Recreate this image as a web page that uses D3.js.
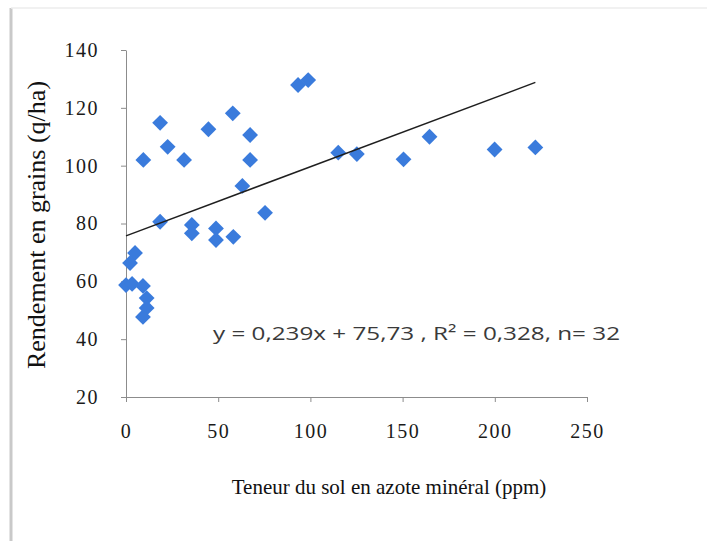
<!DOCTYPE html>
<html>
<head>
<meta charset="utf-8">
<script src="https://cdn.jsdelivr.net/npm/d3@7"></script>
<style>
  html, body { margin: 0; padding: 0; background: #ffffff; }
  svg { display: block; }
</style>
</head>
<body>
<svg id="chart" width="707" height="541"></svg>
<script>
// Soil mineral nitrogen (ppm) vs. grain yield (q/ha)
const nitrogen = [0, 3.3, 9.2, 11.2, 11.2, 9.2, 4.9, 2.2, 9.4, 18.5, 22.6, 31.5, 44.7, 57.9, 67.3, 67.3,
                  63.1, 75.4, 18.5, 35.7, 35.7, 48.8, 48.8, 58.2, 93.3, 98.8, 115.1, 125.2, 150.5, 164.6, 199.9, 222];
const yieldQ   = [58.7, 59.1, 58.4, 54.2, 50.8, 47.7, 69.8, 66.3, 102, 114.8, 106.5, 102, 112.6, 118.1, 110.6, 102,
                  93, 83.7, 80.6, 79.5, 76.6, 78.3, 74.3, 75.4, 127.9, 129.6, 104.5, 104, 102.2, 110, 105.6, 106.3];

// Linear trend: y = slope * x + intercept
const slope = 0.239;
const intercept = 75.73;
const r2 = "0,328";
const nObs = 32;

const xTicks = [0, 50, 100, 150, 200, 250];
const yTicks = [20, 40, 60, 80, 100, 120, 140];

const xTitle = "Teneur du sol en azote minéral (ppm)";
const yTitle = "Rendement en grains (q/ha)";

const svg = d3.select("#chart");

// outer frame
svg.append("line").attr("x1", 11).attr("x2", 11).attr("y1", 8).attr("y2", 541)
  .attr("stroke", "#c9c9c9").attr("stroke-width", 3);
svg.append("line").attr("x1", 11).attr("x2", 707).attr("y1", 8).attr("y2", 8)
  .attr("stroke", "#ececec").attr("stroke-width", 1.5);

const x = d3.scaleLinear().domain([0, 250]).range([126, 587]);
const y = d3.scaleLinear().domain([20, 140]).range([397, 50]);

const axisColor = "#8c8c8c";
const serif = "'Liberation Serif', 'Times New Roman', serif";

// x axis
const gx = svg.append("g").attr("transform", `translate(0,${y(20)})`)
  .call(d3.axisBottom(x).tickValues(xTicks).tickSize(5).tickSizeOuter(0).tickPadding(32));
gx.select(".domain").attr("stroke", axisColor);
gx.selectAll(".tick line").attr("stroke", axisColor);
gx.selectAll(".tick text").attr("font-family", serif).attr("font-size", 20)
  .attr("letter-spacing", "1.5px").attr("fill", "#1a1a1a").attr("dy", "0.2em");

// y axis
const gy = svg.append("g").attr("transform", `translate(${x(0)},0)`)
  .call(d3.axisLeft(y).tickValues(yTicks).tickSize(5).tickSizeOuter(0).tickPadding(22));
gy.select(".domain").attr("stroke", axisColor);
gy.selectAll(".tick line").attr("stroke", axisColor);
gy.selectAll(".tick text").attr("font-family", serif).attr("font-size", 20)
  .attr("letter-spacing", "1.5px").attr("fill", "#1a1a1a");

// axis titles
svg.append("text").attr("x", 389).attr("y", 494).attr("text-anchor", "middle")
  .attr("font-family", serif).attr("font-size", 21).attr("fill", "#111").text(xTitle);
svg.append("text").attr("transform", `translate(36,225) rotate(-90)`).attr("text-anchor", "middle")
  .attr("dominant-baseline", "central")
  .attr("font-family", serif).attr("font-size", 26).attr("fill", "#111").text(yTitle);

// points
const pts = nitrogen.map((v, i) => [v, yieldQ[i]]);
const diamond = d3.symbol().type(d3.symbolSquare).size(125);
svg.append("g").selectAll("path").data(pts).join("path")
  .attr("d", diamond)
  .attr("transform", d => `translate(${x(d[0])},${y(d[1])}) rotate(45)`)
  .attr("fill", "#3a7bdc");

// trend line across the observed range
const xMin = d3.min(nitrogen), xMax = d3.max(nitrogen);
svg.append("line")
  .attr("x1", x(xMin)).attr("y1", y(slope * xMin + intercept))
  .attr("x2", x(xMax)).attr("y2", y(slope * xMax + intercept))
  .attr("stroke", "#1f1f1f").attr("stroke-width", 1.5);

// equation label
svg.append("text").attr("x", 213).attr("y", 340)
  .attr("textLength", 407).attr("lengthAdjust", "spacingAndGlyphs")
  .attr("font-family", "'Open Sans', 'Liberation Sans', sans-serif").attr("font-size", 19).attr("fill", "#3a3a3a")
  .text(`y = 0,239x + 75,73 ,  R² = ${r2},  n= ${nObs}`);
</script>
</body>
</html>
